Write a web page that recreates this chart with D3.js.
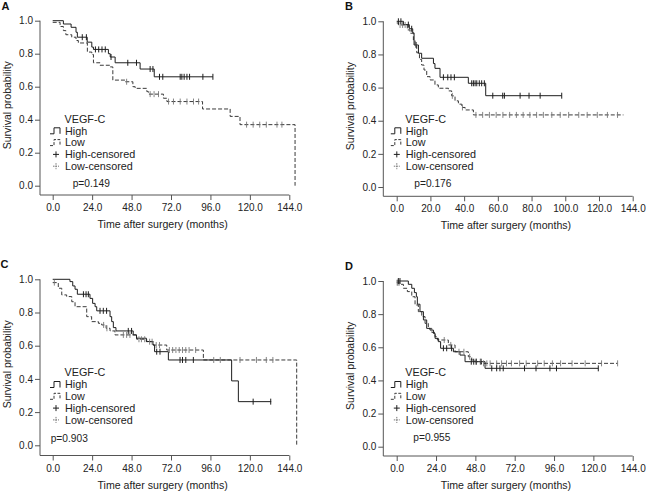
<!DOCTYPE html>
<html><head><meta charset="utf-8">
<script src="https://cdn.jsdelivr.net/npm/d3@7"></script>
<style>body{margin:0;background:#fff}svg{display:block;font-family:"Liberation Sans",Arial,sans-serif}</style>
</head><body><svg id="c" width="646" height="491"></svg>
<script>
// ---------- data ----------
const yTicks = [0, 0.2, 0.4, 0.6, 0.8, 1.0];
const yTickLabels = ["0.0", "0.2", "0.4", "0.6", "0.8", "1.0"];
const xTicks24 = [0, 24, 48, 72, 96, 120, 144];
const xTickLabels24 = ["0.0", "24.0", "48.0", "72.0", "96.0", "120.0", "144.0"];
const xTicks20 = [0, 20, 40, 60, 80, 100, 120, 140];
const xTickLabels20 = ["0.0", "20.0", "40.0", "60.0", "80.0", "100.0", "120.0", "144.0"];
const panelLetters = ["A", "B", "C", "D"];
const pValues = ["p=0.149", "p=0.176", "p=0.903", "p=0.955"];
const legendTitle = "VEGF-C";
const legendItems = ["High", "Low", "High-censored", "Low-censored"];
const xTitle = "Time after surgery (months)";
const yTitle = "Survival probability";

// Kaplan-Meier steps: [time, survival]
const highA = [[0,1.0],[6.5,0.98],[11.2,0.96],[14.2,0.93],[15,0.90],[21,0.87],[23.8,0.84],[24.8,0.826],[33.9,0.80],[35,0.78],[38,0.745],[53.2,0.707],[61.8,0.66],[97.5,0.66]];
const highACens = [18,20.5,26,28,30,32,35.5,45.7,51,59.3,61,65,67,77.6,78.6,80,81.7,83.3,91.4,97.5];
const lowA = [[0,0.99],[4.5,0.965],[6.5,0.94],[8,0.915],[11.6,0.90],[14.2,0.88],[15.6,0.865],[21.1,0.81],[23.8,0.795],[24.8,0.745],[28.8,0.73],[35,0.72],[36.6,0.64],[44,0.63],[48.8,0.60],[50.2,0.59],[57.3,0.57],[58.3,0.555],[67.4,0.53],[69.5,0.51],[91.2,0.465],[108,0.42],[114,0.37],[147.5,0]];
const lowACens = [45,59.3,61.7,64.4,70.5,73.5,77.6,81.7,85.7,88.8,118,122,126,130,136.5,139.5];

const highB = [[0,1],[4,0.98],[7.5,0.955],[9.5,0.93],[10.3,0.857],[12.9,0.807],[14.8,0.777],[21.8,0.745],[22.7,0.716],[25.7,0.662],[42.5,0.626],[52.8,0.551],[97.9,0.551]];
const highBCens = [1,2.5,6.9,8.9,11.5,27.7,30.3,32.2,34.2,44.5,45.5,46.5,47.5,49,50.4,52,57,62.9,63.9,73.2,78.5,85.1,97.9];
const lowB = [[0,0.99],[1,0.978],[6.3,0.948],[7.9,0.928],[9.9,0.887],[10.9,0.85],[11.9,0.81],[13.5,0.77],[14.8,0.736],[16.2,0.706],[17.8,0.666],[19.8,0.646],[22.7,0.616],[24.7,0.596],[30.7,0.58],[32.6,0.55],[34.6,0.52],[36.6,0.50],[38.6,0.48],[40.6,0.465],[45.5,0.435],[134.5,0.435]];
const lowBCens = [2,3.5,5,33,39,47,51,55,59,63,67,71,75,79,83,87,92,97,102,108,113,119,125,131];

const highC = [[0,1],[10.5,0.986],[12.2,0.96],[13.6,0.94],[15,0.91],[22.7,0.885],[24.3,0.855],[25.8,0.835],[26.8,0.81],[34.9,0.775],[35.9,0.745],[36.9,0.709],[38.5,0.689],[49,0.665],[51,0.645],[57,0.625],[61,0.604],[62,0.564],[70.4,0.514],[108.9,0.388],[113,0.263],[133,0.263]];
const highCCens = [18.7,20.3,21.7,28.8,30.8,32.8,46,48,63.3,65.3,77.5,79,81,85.6,122,132.7];
const lowC = [[0,0.98],[3.4,0.946],[5.5,0.906],[8.5,0.896],[11.6,0.865],[13.6,0.835],[20.7,0.775],[23.7,0.745],[27.8,0.735],[29.8,0.725],[32.5,0.705],[34.9,0.689],[37.9,0.665],[51.1,0.639],[57.2,0.624],[61.3,0.604],[69.4,0.574],[91.7,0.514],[148.5,0]];
const lowCCens = [1,31,33,43,45,47,52.5,54,56,59,60.5,63,65,71,73,75,77,79,81,83,87,98,102,114,124,130,134];

const highD = [[0,1],[7.1,0.98],[9.2,0.956],[10.8,0.93],[12,0.905],[12.6,0.86],[14.2,0.815],[16.3,0.765],[18.3,0.714],[20.3,0.704],[22.4,0.684],[23.4,0.654],[25.4,0.634],[26.8,0.594],[34.6,0.573],[38.6,0.553],[41.7,0.513],[53.9,0.473],[123,0.473]];
const highDCens = [1,2,28.5,30.5,33.5,45.5,47,48.5,51.5,58,61,63,65,78,85,93.5,97.5,123];
const lowD = [[0,0.99],[2,0.98],[4.1,0.956],[6.5,0.936],[9.2,0.905],[11.2,0.855],[13.2,0.815],[15.3,0.785],[17.3,0.744],[19.3,0.714],[21.4,0.69],[23.4,0.664],[24.8,0.644],[31.5,0.614],[35.6,0.573],[43.7,0.543],[45.8,0.523],[47.8,0.513],[51.3,0.503],[134.8,0.503]];
const lowDCens = [0.3,0.8,1.5,29,33,38,41,44.5,48.5,51,53,55,57,61,64,67,70,75,79,86,90,95,100,107,115,125,134.8];

// ---------- layout ----------
const layout = [
  {ox:40,    x0:52.7,  x1:289.3, xmax:144, yTop:20.7,  yBot:185.7, axisY:195,   ticks:xTicks24, labels:xTickLabels24, lx:64.5,  ly:119,   px:72.7,  py:183.3, lX:1.5, lY:9.5},
  {ox:383.3, x0:396.7, x1:632.7, xmax:140, yTop:21.3,  yBot:187,   axisY:196.3, ticks:xTicks20, labels:xTickLabels20, lx:405.3, ly:119,   px:414.3, py:183.3, lX:345, lY:10},
  {ox:40,    x0:52.7,  x1:289.3, xmax:144, yTop:279.3, yBot:445.3, axisY:455.5, ticks:xTicks24, labels:xTickLabels24, lx:64.5,  ly:372.7, px:50.7,  py:438.3, lX:0.5, lY:268},
  {ox:383.3, x0:396.7, x1:632.7, xmax:144, yTop:281,   yBot:446.7, axisY:456,   ticks:xTicks24, labels:xTickLabels24, lx:405.3, ly:372.7, px:413.3, py:437.7, lX:345, lY:270}
];
const series = [
  {high:highA, highC:highACens, low:lowA, lowC:lowACens},
  {high:highB, highC:highBCens, low:lowB, lowC:lowBCens},
  {high:highC, highC:highCCens, low:lowC, lowC:lowCCens},
  {high:highD, highC:highDCens, low:lowD, lowC:lowDCens}
];

const svg = d3.select("#c");
const textCol = "#222", axisCol = "#555", hiCol = "#1e1e1e", loCol = "#3a3a3a";

function stepAt(ev, t) {
  let s = ev[0][1];
  for (const [tt, ss] of ev) { if (tt <= t) s = ss; else break; }
  return s;
}

layout.forEach((L, i) => {
  const S = series[i];
  const x = d3.scaleLinear().domain([0, L.xmax]).range([L.x0, L.x1]);
  const y = d3.scaleLinear().domain([0, 1]).range([L.yBot, L.yTop]);
  const g = svg.append("g");

  // axes lines
  g.append("line").attr("x1", L.ox).attr("x2", L.x1).attr("y1", L.axisY).attr("y2", L.axisY)
    .attr("stroke", axisCol).attr("stroke-width", 1);
  g.append("line").attr("x1", L.ox).attr("x2", L.ox).attr("y1", L.yTop).attr("y2", L.axisY)
    .attr("stroke", axisCol).attr("stroke-width", 1);

  const gx = g.append("g").attr("transform", `translate(0,${L.axisY})`)
    .call(d3.axisBottom(x).tickValues(L.ticks).tickFormat((d, k) => L.labels[k]).tickSize(5).tickPadding(4));
  const gy = g.append("g").attr("transform", `translate(${L.ox},0)`)
    .call(d3.axisLeft(y).tickValues(yTicks).tickFormat((d, k) => yTickLabels[k]).tickSize(5).tickPadding(2));
  [gx, gy].forEach(a => {
    a.select(".domain").remove();
    a.selectAll(".tick line").attr("stroke", axisCol);
    a.selectAll(".tick text").attr("fill", textCol).style("font-size", "10px")
      .style("font-family", '"Liberation Sans", Arial, sans-serif');
  });

  // titles
  g.append("text").attr("x", (L.ox + L.x1) / 2 - 2).attr("y", L.axisY + 33).attr("text-anchor", "middle")
    .attr("fill", textCol).style("font-size", "10.6px").text(xTitle);
  g.append("text").attr("transform", `translate(${L.ox - 33.5},${(L.yTop + L.yBot) / 2 + 2}) rotate(-90)`)
    .attr("text-anchor", "middle").attr("dominant-baseline", "central")
    .attr("fill", textCol).style("font-size", "10.5px").text(yTitle);
  g.append("text").attr("x", L.lX).attr("y", L.lY).attr("fill", "#111").style("font-size", "11px")
    .style("font-weight", "bold").text(panelLetters[i]);

  // curves
  const line = d3.line().x(d => x(d[0])).y(d => y(d[1])).curve(d3.curveStepAfter);
  g.append("path").attr("d", line(S.low)).attr("fill", "none").attr("stroke", loCol)
    .attr("stroke-width", 1).attr("stroke-dasharray", "4,2");
  g.append("path").attr("d", line(S.high)).attr("fill", "none").attr("stroke", hiCol).attr("stroke-width", 1);

  // censor marks
  g.selectAll(null).data(S.lowC).join("line")
    .attr("x1", d => x(d)).attr("x2", d => x(d))
    .attr("y1", d => y(stepAt(S.low, d)) - 3).attr("y2", d => y(stepAt(S.low, d)) + 3)
    .attr("stroke", "#777").attr("stroke-width", 0.9);
  g.selectAll(null).data(S.highC).join("line")
    .attr("x1", d => x(d)).attr("x2", d => x(d))
    .attr("y1", d => y(stepAt(S.high, d)) - 3).attr("y2", d => y(stepAt(S.high, d)) + 3)
    .attr("stroke", hiCol).attr("stroke-width", 1);

  // legend
  const lg = g.append("g").style("font-size", "10.8px").attr("fill", textCol);
  lg.append("text").attr("x", L.lx).attr("y", L.ly).attr("dy", "0.35em").text(legendTitle);
  legendItems.forEach((name, k) => {
    const cy = L.ly + 11.8 * (k + 1);
    lg.append("text").attr("x", L.lx + 0.5).attr("y", cy).attr("dy", "0.35em").text(name);
    const sx = L.lx - 14.5;
    if (k < 2) {
      lg.append("path").attr("d", `M${sx},${cy + 3}H${sx + 4}V${cy - 3}H${sx + 10}V${cy + 3}`)
        .attr("fill", "none").attr("stroke", k === 0 ? hiCol : loCol).attr("stroke-width", 1)
        .attr("stroke-dasharray", k === 0 ? null : "3,1.5");
    } else {
      const c = sx + 6;
      lg.append("path").attr("d", `M${c - 3},${cy}H${c + 3}M${c},${cy - 3}V${cy + 3}`)
        .attr("fill", "none").attr("stroke", k === 2 ? hiCol : "#777").attr("stroke-width", 1)
        .attr("stroke-dasharray", k === 2 ? null : "1.5,1");
    }
  });
  g.append("text").attr("x", L.px).attr("y", L.py).attr("dy", "0.35em").attr("fill", textCol)
    .style("font-size", "10.2px").text(pValues[i]);
});
</script></body></html>
